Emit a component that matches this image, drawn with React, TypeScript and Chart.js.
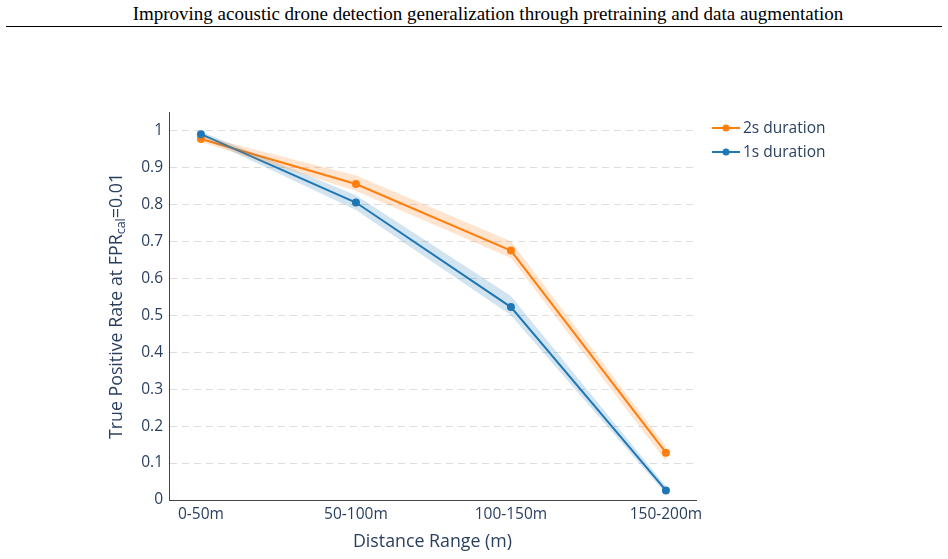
import React, { useEffect, useRef } from "react";
import { Chart, registerables } from "chart.js";

Chart.register(...registerables);

const categories = ["0-50m", "50-100m", "100-150m", "150-200m"];
const seriesNames = ["2s duration", "1s duration"];
const tpr2s = [0.977, 0.855, 0.675, 0.128];
const tpr2sUpper = [0.986, 0.878, 0.7, 0.145];
const tpr2sLower = [0.969, 0.836, 0.655, 0.105];
const tpr1s = [0.99, 0.805, 0.522, 0.026];
const tpr1sUpper = [0.997, 0.825, 0.552, 0.037];
const tpr1sLower = [0.983, 0.785, 0.5, 0.016];
const yTicks = [0, 0.1, 0.2, 0.3, 0.4, 0.5, 0.6, 0.7, 0.8, 0.9, 1];

const ORANGE = "#ff7f0e";
const BLUE = "#1f77b4";
const ORANGE_BAND = "rgba(255,127,14,0.2)";
const BLUE_BAND = "rgba(31,119,180,0.2)";
const TEXT = "#2a3f5f";
const FONT = "'Open Sans', sans-serif";

const pts = (arr: number[]) => arr.map((v, i) => ({ x: i, y: v }));

const overlayPlugin = {
  id: "overlay",
  afterDraw(chart: any) {
    const ctx = chart.ctx;
    const area = chart.chartArea;
    ctx.save();
    // Y axis title with subscript
    ctx.fillStyle = TEXT;
    const mainFont = `17.8px ${FONT}`;
    const subFont = `12.5px ${FONT}`;
    const p1 = "True Positive Rate at FPR";
    const p2 = "cal";
    const p3 = "=0.01";
    ctx.font = mainFont;
    const w1 = ctx.measureText(p1).width;
    const w3 = ctx.measureText(p3).width;
    ctx.font = subFont;
    const w2 = ctx.measureText(p2).width;
    const total = w1 + w2 + w3;
    ctx.translate(117, 306);
    ctx.rotate(-Math.PI / 2);
    ctx.textBaseline = "middle";
    ctx.textAlign = "left";
    let x = -total / 2;
    ctx.font = mainFont;
    ctx.fillText(p1, x, 0);
    x += w1;
    ctx.font = subFont;
    ctx.fillText(p2, x, 4);
    x += w2;
    ctx.font = mainFont;
    ctx.fillText(p3, x, 0);
    ctx.restore();

    // X axis title
    ctx.save();
    ctx.fillStyle = TEXT;
    ctx.font = `17.8px ${FONT}`;
    ctx.textAlign = "center";
    ctx.textBaseline = "middle";
    ctx.fillText("Distance Range (m)", (area.left + area.right) / 2, 542);
    ctx.restore();

    // Legend
    ctx.save();
    const items = [
      { name: seriesNames[0], color: ORANGE, y: 128 },
      { name: seriesNames[1], color: BLUE, y: 152 },
    ];
    for (const it of items) {
      ctx.strokeStyle = it.color;
      ctx.lineWidth = 2;
      ctx.beginPath();
      ctx.moveTo(712, it.y);
      ctx.lineTo(740, it.y);
      ctx.stroke();
      ctx.fillStyle = it.color;
      ctx.beginPath();
      ctx.arc(726, it.y, 3.5, 0, Math.PI * 2);
      ctx.fill();
      ctx.fillStyle = TEXT;
      ctx.font = `15.5px ${FONT}`;
      ctx.textAlign = "left";
      ctx.textBaseline = "middle";
      ctx.fillText(it.name, 743, it.y + 1);
    }
    ctx.restore();
  },
};

export default function App() {
  const ref = useRef<HTMLCanvasElement | null>(null);
  useEffect(() => {
    document.body.style.margin = "0";
    const canvas = ref.current!;
    const chart = new Chart(canvas, {
      type: "line",
      data: {
        datasets: [
          {
            label: "2s upper",
            data: pts(tpr2sUpper),
            borderWidth: 0,
            pointRadius: 0,
            fill: false,
            backgroundColor: ORANGE_BAND,
          },
          {
            label: "2s lower",
            data: pts(tpr2sLower),
            borderWidth: 0,
            pointRadius: 0,
            fill: "-1",
            backgroundColor: ORANGE_BAND,
          },
          {
            label: "1s upper",
            data: pts(tpr1sUpper),
            borderWidth: 0,
            pointRadius: 0,
            fill: false,
            backgroundColor: BLUE_BAND,
          },
          {
            label: "1s lower",
            data: pts(tpr1sLower),
            borderWidth: 0,
            pointRadius: 0,
            fill: "-1",
            backgroundColor: BLUE_BAND,
          },
          {
            label: seriesNames[1],
            data: pts(tpr1s),
            borderColor: BLUE,
            backgroundColor: BLUE,
            borderWidth: 2,
            pointRadius: 4,
            pointBorderWidth: 0,
            fill: false,
          },
          {
            label: seriesNames[0],
            data: pts(tpr2s),
            borderColor: ORANGE,
            backgroundColor: ORANGE,
            borderWidth: 2,
            pointRadius: 4,
            pointBorderWidth: 0,
            fill: false,
          },
        ],
      },
      options: {
        animation: false,
        responsive: false,
        maintainAspectRatio: false,
        layout: { padding: { left: 0, top: 112, right: 252, bottom: 0 } },
        plugins: {
          legend: { display: false },
          tooltip: { enabled: false },
          title: { display: false },
        },
        scales: {
          x: {
            type: "linear",
            min: -0.206,
            max: 3.194,
            afterFit: (s: any) => {
              s.height = 59;
            },
            afterBuildTicks: (s: any) => {
              s.ticks = categories.map((_, i) => ({ value: i }));
            },
            ticks: {
              callback: (v: any) => categories[Math.round(Number(v))] ?? "",
              color: TEXT,
              font: { family: FONT, size: 15.5 },
              padding: 5,
              maxRotation: 0,
            },
            grid: { display: false, drawTicks: false },
            border: { display: true, color: "#444", width: 1 },
          },
          y: {
            type: "linear",
            min: 0,
            max: 1.05,
            afterFit: (s: any) => {
              s.width = 169;
            },
            afterBuildTicks: (s: any) => {
              s.ticks = yTicks.map((v) => ({ value: v }));
            },
            ticks: {
              callback: (v: any) => String(Math.round(Number(v) * 10) / 10),
              color: TEXT,
              font: { family: FONT, size: 15.5 },
              padding: 6,
            },
            grid: {
              display: true,
              drawTicks: false,
              color: (c: any) => (c.tick && c.tick.value === 0 ? "rgba(0,0,0,0)" : "#dcdcdc"),
              lineWidth: 1,
            },
            border: { display: true, color: "#444", width: 1, dash: [7, 5] },
          },
        },
      },
      plugins: [overlayPlugin],
    });
    return () => chart.destroy();
  }, []);

  return (
    <div style={{ position: "fixed", left: 0, top: 0, width: 948, height: 559, background: "#fff" }}>
      <div
        style={{
          position: "absolute",
          left: 14,
          top: 2,
          width: 948,
          textAlign: "center",
          fontFamily: "'Liberation Serif', 'Times New Roman', serif",
          fontSize: 19,
          color: "#000",
          lineHeight: "24px",
          whiteSpace: "nowrap",
        }}
      >
        Improving acoustic drone detection generalization through pretraining and data augmentation
      </div>
      <div style={{ position: "absolute", left: 6, top: 26, width: 936, height: 1, background: "#000" }} />
      <canvas ref={ref} width={948} height={559} style={{ position: "absolute", left: 0, top: 0 }} />
    </div>
  );
}
